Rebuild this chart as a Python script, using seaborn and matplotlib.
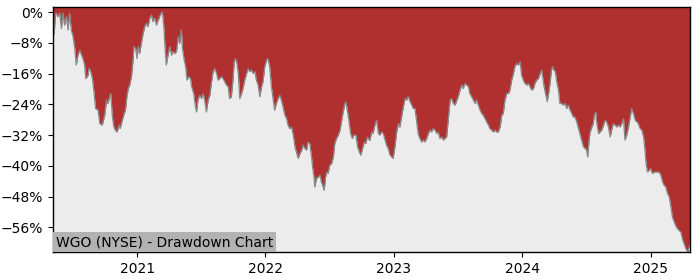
import matplotlib
matplotlib.use("Agg")
import matplotlib.pyplot as plt
import matplotlib.dates as mdates
from matplotlib.ticker import FuncFormatter
import seaborn as sns
import pandas as pd

# ---- data ----
start_date = "2020-05-07"
day_offsets = [
    0, 3, 7, 9, 14, 19, 24, 28, 33, 38, 43, 47, 52, 57, 62, 66, 71, 76, 81, 85, 90, 93, 100, 102, 106, 112,
    117, 121, 128, 133, 140, 147, 152, 156, 161, 164, 169, 173, 177, 182, 188, 191, 197, 201, 206, 210, 214,
    218, 223, 228, 230, 235, 239, 242, 246, 251, 256, 261, 265, 270, 275, 280, 284, 289, 294, 299, 303, 308,
    311, 315, 319, 322, 327, 332, 337, 341, 346, 351, 356, 360, 365, 368, 373, 377, 381, 386, 391, 394, 400,
    405, 408, 412, 417, 422, 427, 431, 436, 441, 446, 450, 455, 460, 465, 469, 474, 479, 483, 488, 493, 498,
    502, 507, 512, 515, 519, 523, 527, 531, 536, 540, 545, 550, 555, 559, 564, 569, 574, 578, 583, 588, 593,
    597, 602, 607, 611, 616, 621, 626, 630, 635, 640, 645, 649, 654, 659, 664, 668, 673, 678,
    683, 688, 692, 697, 702, 707, 711, 716, 721, 725, 730, 735, 738, 742, 744, 749, 754, 759, 763, 768, 771,
    775, 778, 782, 787, 792, 797, 801, 806, 811, 816, 820, 825, 830, 833, 836, 841, 846, 851, 855, 861, 866,
    871, 875, 880, 885, 889, 894, 899,
    901, 906, 910, 915, 920, 925, 929, 934, 939, 944, 948, 953, 958, 963, 967, 972, 977, 982, 986, 991, 996,
    1001, 1005, 1010, 1015, 1020, 1024, 1029, 1034, 1038, 1043, 1048, 1053, 1057, 1062, 1067, 1072, 1076,
    1081, 1086, 1091, 1095, 1100, 1105, 1110, 1114, 1119, 1124, 1129, 1133, 1138, 1143, 1148, 1152, 1157,
    1162, 1166, 1171, 1176, 1181, 1185, 1190,
    1195, 1200, 1204, 1209, 1214, 1219, 1223, 1228, 1233, 1238, 1242, 1247, 1252, 1257, 1261, 1266, 1271,
    1276, 1280, 1285, 1290, 1295, 1299, 1304, 1309, 1313, 1318, 1323, 1328, 1332, 1337, 1342, 1347, 1351,
    1356, 1361, 1366, 1370, 1375, 1380, 1385, 1389, 1392, 1396, 1401, 1405, 1409, 1413, 1417, 1421, 1424,
    1428, 1432, 1437, 1441, 1446, 1451, 1456, 1460, 1465, 1470, 1475, 1479, 1484, 1489, 1494,
    1498, 1503, 1508, 1513, 1517, 1520, 1524, 1527, 1532, 1536, 1539, 1543, 1546, 1551, 1555, 1560, 1565,
    1570, 1574, 1579, 1584, 1588, 1593, 1598, 1603, 1607, 1612, 1617, 1622, 1626, 1631, 1636, 1641, 1645,
    1650, 1655, 1660, 1664, 1669, 1674, 1679, 1683, 1686, 1690, 1695, 1699, 1704, 1709, 1714, 1718, 1723,
    1728, 1733, 1737, 1742, 1747, 1752, 1756, 1761, 1766, 1770, 1775, 1780, 1785, 1789, 1794, 1799, 1802,
    1805, 1807, 1811,
]
drawdown_pct = [
    0.0, -6.0, -0.8, -0.3, -1.2, -0.3, -4.3, -0.3, -3.4, -1.2, -4.7, -0.3, -4.7, -6.4, -9.5, -13.8, -11.2,
    -9.9, -11.2, -12.1, -13.8, -17.3, -16.4, -14.7, -15.1, -17.3,
    -21.2, -25.1, -25.5, -29.0, -29.4, -26.8, -22.9, -23.8, -22.0, -21.2, -27.3, -29.9, -30.7, -31.2, -29.4,
    -30.3, -28.1, -26.8, -25.5, -22.0, -19.9,
    -19.0, -16.8, -12.1, -9.0, -9.5, -12.1, -9.0, -10.8, -8.2, -5.6, -3.8, -3.0, -3.8, -1.6, -0.8, -2.5,
    -1.6, -3.4, -2.1, -1.2, -0.2,
    0.0, -3.8, -9.9, -13.8, -11.2, -9.0, -11.2, -10.3, -10.8, -10.3, -6.4, -8.2, -4.7, -9.5, -12.5, -14.2,
    -17.7, -16.8, -17.3, -19.4, -21.2,
    -24.7, -26.0, -22.9, -21.6, -22.5, -21.2, -22.9, -26.0, -22.9, -21.6, -18.6, -15.5, -14.7, -16.0, -17.7,
    -17.3, -16.8, -17.3, -18.1, -19.0, -19.4,
    -22.5, -22.0, -17.3, -12.9, -12.1, -13.4, -16.4, -22.5, -21.2, -19.9, -17.7, -16.0, -14.7, -15.5, -15.1,
    -16.0, -15.5, -17.7, -19.0, -22.0, -19.4,
    -18.1, -14.2, -12.5, -12.1, -14.2, -19.4, -22.9, -25.5, -23.8, -22.5, -21.6, -22.9, -24.7, -26.8, -27.7,
    -29.4, -30.3, -29.9,
    -32.0, -35.1, -36.4, -38.1, -36.8, -35.9, -34.6, -35.5, -35.9, -33.8, -34.2, -37.7, -40.3, -42.9, -45.5,
    -43.3, -42.9, -42.4, -44.2, -45.5, -46.4,
    -42.9, -41.6, -42.0, -39.8, -39.4, -37.7, -34.2, -32.9, -32.0, -30.7, -28.6, -25.9, -23.8, -23.4, -25.1,
    -28.1, -31.6, -32.9, -32.0, -32.0, -35.1,
    -36.4, -37.2, -35.5, -33.8, -34.2, -32.5, -33.3,
    -33.3, -31.2, -31.6, -29.4, -28.1, -31.6, -32.0, -31.2, -31.6, -33.3, -34.6, -35.5, -37.2, -37.7, -38.1,
    -35.1, -31.2, -29.0, -29.9, -27.3, -24.6,
    -22.5, -22.9, -22.0, -23.3, -24.2, -25.1, -25.1, -28.6, -31.6, -32.9, -33.8, -33.3, -33.8, -32.9, -31.6,
    -30.7, -31.2,
    -30.3, -30.7, -31.6, -31.2, -32.9, -32.5, -33.3, -32.9, -32.5, -27.7, -22.9, -22.5, -23.8, -24.2, -22.9,
    -22.0, -20.3,
    -19.0, -19.9, -18.6, -19.0, -19.4, -21.2, -22.0,
    -22.9, -23.8, -22.9, -24.2, -25.5, -26.4, -26.8, -27.7, -28.6, -29.4, -30.3, -30.7, -31.2, -30.7, -31.2,
    -31.2, -29.9,
    -26.8, -26.4, -22.9, -21.2, -21.2, -20.3, -17.7, -16.0, -14.2, -13.4, -13.8, -12.9, -16.4, -17.7, -18.6,
    -19.0, -18.6,
    -19.4, -20.3, -19.9, -18.6, -17.7, -17.3, -16.0, -15.1, -16.8, -19.4, -21.6, -23.3, -21.2, -18.6, -15.1,
    -14.2, -15.1,
    -15.5, -18.1, -20.3, -23.8, -23.8, -24.2, -23.8, -25.1, -24.2, -25.5, -26.4, -27.3, -27.3, -28.6, -30.3,
    -31.6, -33.3, -35.1, -35.5, -35.9, -37.7, -33.3, -31.2, -29.9, -29.0, -26.8, -26.0, -29.0, -31.6, -31.2,
    -30.7, -29.4,
    -28.1, -28.6, -29.9, -32.5, -30.7, -29.0, -29.4, -29.9, -29.4, -29.9, -29.0, -27.7, -33.3, -32.0, -29.9,
    -27.3, -25.1,
    -26.4, -28.1, -28.6, -29.0, -30.3, -30.7, -32.5, -35.9, -39.4, -41.6, -41.1, -40.7, -42.0, -41.6, -41.6,
    -41.6, -41.6,
    -42.4, -44.2, -45.0, -45.5, -47.2, -48.1, -50.3, -53.3, -54.6, -55.5, -56.3, -56.8, -57.2, -58.9, -60.2,
    -61.5, -62.0,
    -62.3, -61.5, -60.5,
]
chart_label = "WGO (NYSE) - Drawdown Chart"
y_ticks = [0, -8, -16, -24, -32, -40, -48, -56]

dates = pd.Timestamp(start_date) + pd.to_timedelta(day_offsets, unit="D")
df = pd.DataFrame({"date": dates, "drawdown": drawdown_pct})

# ---- styling ----
RED = "#b03030"
BG = "#ececec"
LINE = "#8a8a8a"

fig = plt.figure(figsize=(7.0, 2.8), dpi=100)
ax = fig.add_axes([53 / 700, 28 / 280, (690 - 53) / 700, (252 - 7) / 280])
ax.set_facecolor(BG)

y_top, y_bottom = 1.3, -62.4
ax.fill_between(df["date"], df["drawdown"], y_top, color=RED, linewidth=0, zorder=1)
sns.lineplot(data=df, x="date", y="drawdown", ax=ax, color=LINE, linewidth=0.9, zorder=2)

ax.set_xlim(df["date"].iloc[0], df["date"].iloc[-1])
ax.set_ylim(y_bottom, y_top)
ax.set_yticks(y_ticks)
ax.yaxis.set_major_formatter(FuncFormatter(lambda v, p: f"{int(round(v))}%".replace("-", "\u2212")))
ax.xaxis.set_major_locator(mdates.YearLocator())
ax.xaxis.set_major_formatter(mdates.DateFormatter("%Y"))
ax.set_xlabel("")
ax.set_ylabel("")
ax.tick_params(axis="both", labelsize=10, colors="black")
for s in ax.spines.values():
    s.set_color("black")
    s.set_linewidth(1.0)

ax.text(0.005, 0.012, chart_label, transform=ax.transAxes, fontsize=10, color="black",
        ha="left", va="bottom", zorder=5,
        bbox=dict(facecolor="#b2b2b2", edgecolor="none", pad=2.0))

fig.savefig("out.png", dpi=100)
